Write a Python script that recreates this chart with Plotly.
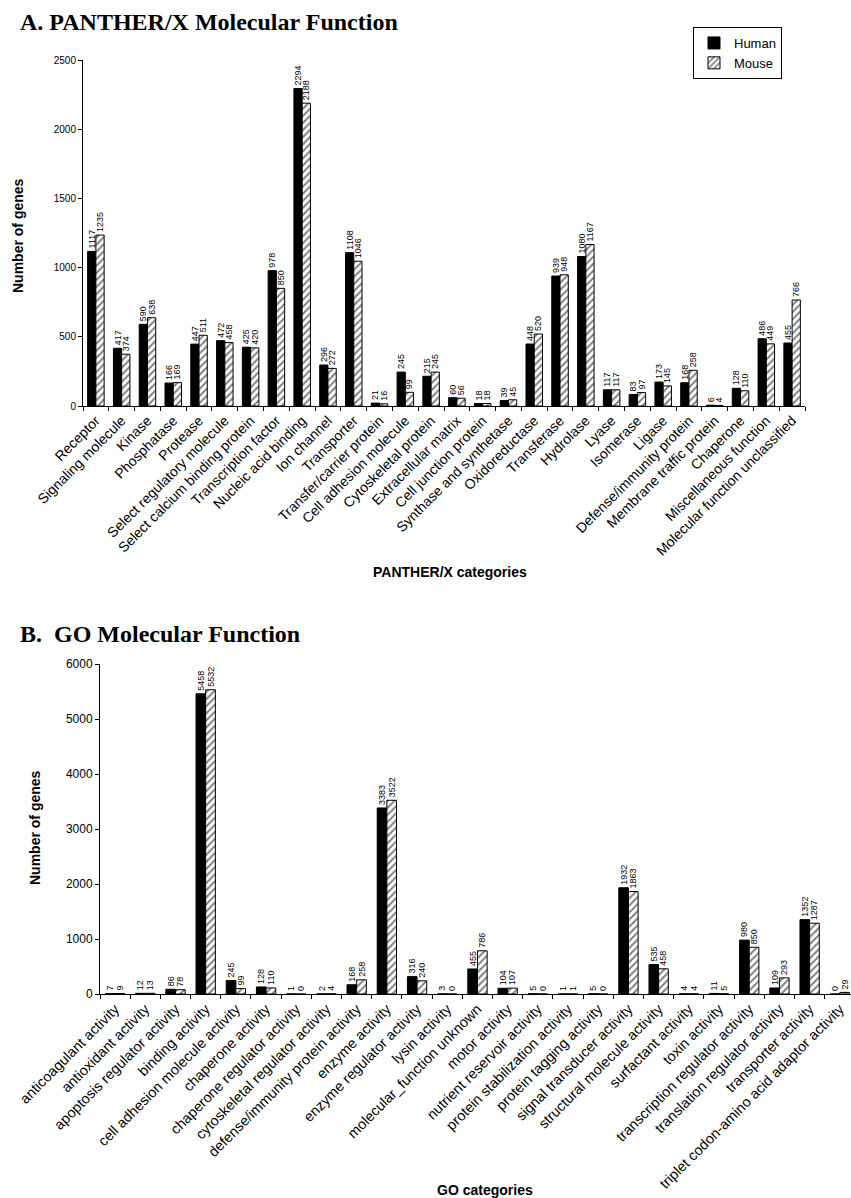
import plotly.graph_objects as go

# Panel A: PANTHER/X molecular function categories
panther_categories = [
    "Receptor", "Signaling molecule", "Kinase", "Phosphatase", "Protease",
    "Select regulatory molecule", "Select calcium binding protein",
    "Transcription factor", "Nucleic acid binding", "Ion channel", "Transporter",
    "Transfer/carrier protein", "Cell adhesion molecule", "Cytoskeletal protein",
    "Extracellular matrix", "Cell junction protein", "Synthase and synthetase",
    "Oxidoreductase", "Transferase", "Hydrolase", "Lyase", "Isomerase", "Ligase",
    "Defense/immunity protein", "Membrane traffic protein", "Chaperone",
    "Miscellaneous function", "Molecular function unclassified",
]
panther_human = [1117, 417, 590, 166, 447, 472, 425, 978, 2294, 296, 1108,
                 21, 245, 215, 60, 18, 39, 448, 939, 1080, 117, 83, 173,
                 168, 6, 128, 486, 455]
panther_mouse = [1235, 374, 638, 169, 511, 458, 420, 850, 2188, 272, 1046,
                 16, 99, 245, 56, 18, 45, 520, 948, 1167, 117, 97, 145,
                 258, 4, 110, 449, 766]

# Panel B: GO molecular function categories
go_categories = [
    "anticoagulant activity", "antioxidant activity",
    "apoptosis regulator activity", "binding activity",
    "cell adhesion molecule activity", "chaperone activity",
    "chaperone regulator activity", "cytoskeletal regulator activity",
    "defense/immunity protein activity", "enzyme activity",
    "enzyme regulator activity", "lysin activity",
    "molecular_function unknown", "motor activity",
    "nutrient reservoir activity", "protein stabilization activity",
    "protein tagging activity", "signal transducer activity",
    "structural molecule activity", "surfactant activity", "toxin activity",
    "transcription regulator activity", "translation regulator activity",
    "transporter activity", "triplet codon-amino acid adaptor activity",
]
go_human = [7, 12, 86, 5458, 245, 128, 1, 2, 168, 3383, 316, 3, 455, 104,
            5, 1, 5, 1932, 535, 4, 11, 980, 109, 1352, 0]
go_mouse = [9, 13, 78, 5532, 99, 110, 0, 4, 258, 3522, 240, 0, 786, 107,
            0, 1, 0, 1863, 458, 4, 5, 850, 293, 1287, 29]

W, H = 851, 1198
SANS = "Liberation Sans, Arial, sans-serif"
SERIF = "Liberation Serif, Times New Roman, serif"


def px_x(p):
    return p / W


def px_y(p):
    return 1 - p / H


def human_trace(x, y, xa, ya, show):
    return go.Bar(
        x=x, y=y, name="Human", xaxis=xa, yaxis=ya, showlegend=show,
        legendgroup="h",
        marker=dict(color="black", line=dict(color="black", width=1)),
        text=y, texttemplate="%{y}", textposition="outside", textangle=-90,
        textfont=dict(family=SANS, size=9, color="black"),
        constraintext="none", cliponaxis=False,
    )


def mouse_trace(x, y, xa, ya, show):
    return go.Bar(
        x=x, y=y, name="Mouse", xaxis=xa, yaxis=ya, showlegend=show,
        legendgroup="m",
        marker=dict(color="white", line=dict(color="black", width=1),
                    pattern=dict(shape="/", fgcolor="black", bgcolor="white",
                                 size=5, solidity=0.4)),
        text=y, texttemplate="%{y}", textposition="outside", textangle=-90,
        textfont=dict(family=SANS, size=9, color="black"),
        constraintext="none", cliponaxis=False,
    )


fig = go.Figure()
fig.add_trace(human_trace(panther_categories, panther_human, "x", "y", True))
fig.add_trace(mouse_trace(panther_categories, panther_mouse, "x", "y", True))
fig.add_trace(human_trace(go_categories, go_human, "x2", "y2", False))
fig.add_trace(mouse_trace(go_categories, go_mouse, "x2", "y2", False))

xcommon = dict(
    type="category", showline=True, linecolor="black", linewidth=1,
    ticks="outside", tickson="boundaries", ticklen=4, tickcolor="black",
    tickangle=-45, showgrid=False, zeroline=False, automargin=False,
)
ycommon = dict(
    showline=True, linecolor="black", linewidth=1, ticks="outside",
    ticklen=4, tickcolor="black", showgrid=False, zeroline=False,
    automargin=False,
)

fig.update_layout(
    width=W, height=H,
    margin=dict(l=0, r=0, t=0, b=0, autoexpand=False),
    paper_bgcolor="white", plot_bgcolor="white",
    barmode="group", bargap=0.36, bargroupgap=0,
    font=dict(family=SANS, color="black"),
    xaxis=dict(xcommon, domain=[px_x(83), px_x(805)], range=[-0.5, 27.5],
               tickfont=dict(family=SANS, size=14, color="black"),
               anchor="y"),
    yaxis=dict(ycommon, domain=[px_y(406), px_y(60)], range=[0, 2500],
               tickvals=[0, 500, 1000, 1500, 2000, 2500],
               tickfont=dict(family=SANS, size=10, color="black"),
               anchor="x"),
    xaxis2=dict(xcommon, domain=[px_x(100), 1.0], range=[-0.5, 24.37],
                tickfont=dict(family=SANS, size=14.4, color="black"),
                anchor="y2"),
    yaxis2=dict(ycommon, domain=[px_y(994), px_y(664)], range=[0, 6000],
                tickvals=[0, 1000, 2000, 3000, 4000, 5000, 6000],
                tickfont=dict(family=SANS, size=12, color="black"),
                anchor="x2"),
    legend=dict(
        x=px_x(693), y=px_y(27), xanchor="left", yanchor="top",
        bordercolor="black", borderwidth=1, bgcolor="white",
        font=dict(family=SANS, size=13, color="black"),
        itemwidth=30, tracegroupgap=0,
    ),
    annotations=[
        dict(text="<b>A. PANTHER/X Molecular Function</b>", x=px_x(18),
             y=px_y(22), xref="paper", yref="paper", xanchor="left",
             yanchor="middle", showarrow=False,
             font=dict(family=SERIF, size=24, color="black")),
        dict(text="<b>B.  GO Molecular Function</b>", x=px_x(18),
             y=px_y(634), xref="paper", yref="paper", xanchor="left",
             yanchor="middle", showarrow=False,
             font=dict(family=SERIF, size=24, color="black")),
        dict(text="<b>Number of genes</b>", x=px_x(18), y=px_y(236),
             xref="paper", yref="paper", textangle=-90, showarrow=False,
             xanchor="center", yanchor="middle",
             font=dict(family=SANS, size=14, color="black")),
        dict(text="<b>Number of genes</b>", x=px_x(35), y=px_y(828),
             xref="paper", yref="paper", textangle=-90, showarrow=False,
             xanchor="center", yanchor="middle",
             font=dict(family=SANS, size=14, color="black")),
        dict(text="<b>PANTHER/X categories</b>", x=px_x(450), y=px_y(572),
             xref="paper", yref="paper", showarrow=False,
             xanchor="center", yanchor="middle",
             font=dict(family=SANS, size=14, color="black")),
        dict(text="<b>GO categories</b>", x=px_x(485), y=px_y(1190),
             xref="paper", yref="paper", showarrow=False,
             xanchor="center", yanchor="middle",
             font=dict(family=SANS, size=14, color="black")),
    ],
)

fig.write_html("out.html")
